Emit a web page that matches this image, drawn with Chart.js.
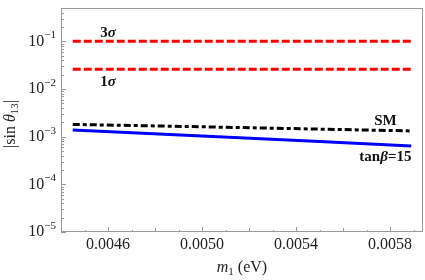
<!DOCTYPE html>
<html>
<head>
<meta charset="utf-8">
<script src="https://cdn.jsdelivr.net/npm/chart.js@4/dist/chart.umd.min.js"></script>
<style>
  html, body { margin: 0; padding: 0; background: #fff; }
  #box { width: 425px; height: 280px; }
</style>
</head>
<body>
<div id="box"><canvas id="mixChart" width="425" height="280"></canvas></div>
<script>
// m1 (eV) sample points and |sin theta13| values
var m1Values = [0.00445, 0.0050, 0.0055, 0.00589];
var smValues = [1.81e-3, 1.61e-3, 1.44e-3, 1.32e-3];
var tanBetaValues = [1.38e-3, 1.03e-3, 7.9e-4, 6.4e-4];
var boundX = [0.00445, 0.00589];
var sigma3Values = [0.1, 0.1];
var sigma1Values = [0.026, 0.026];

var xTicks = [0.0046, 0.0050, 0.0054, 0.0058];
var xTickLabels = ['0.0046', '0.0050', '0.0054', '0.0058'];
var yExponents = [-5, -4, -3, -2, -1];

var serif = '"Liberation Serif", "DejaVu Serif", serif';

function pts(xs, ys) {
    return xs.map(function(x, i) { return {x: x, y: ys[i]}; });
}

// draw a run of text pieces (different fonts / baseline shifts)
function richText(ctx, parts, x, y, align) {
    var w = 0;
    parts.forEach(function(p) { ctx.font = p.font; w += ctx.measureText(p.t).width; });
    var start = align === 'right' ? x - w : (align === 'left' ? x : x - w / 2);
    ctx.textAlign = 'left';
    ctx.textBaseline = 'middle';
    parts.forEach(function(p) {
        ctx.font = p.font;
        ctx.fillText(p.t, start, y + (p.dy || 0));
        start += ctx.measureText(p.t).width;
    });
}

var notes = [
    {parts: [{t: '3', font: 'bold 15px ' + serif}, {t: 'σ', font: 'italic bold 15px ' + serif}], x: 0.0046, y: 0.1, dy: -8},
    {parts: [{t: '1', font: 'bold 15px ' + serif}, {t: 'σ', font: 'italic bold 15px ' + serif}], x: 0.0046, y: 0.026, dy: 13},
    {parts: [{t: 'SM', font: 'bold 15px ' + serif}], x: 0.00578, y: 1.34e-3, dy: -9},
    {parts: [{t: 'tan', font: 'bold 15px ' + serif}, {t: 'β', font: 'italic bold 15px ' + serif}, {t: '=15', font: 'bold 15px ' + serif}], x: 0.00578, y: 6.7e-4, dy: 12}
];

var framePlugin = {
    id: 'framePlugin',
    beforeDatasetsDraw: function(chart) {
        var ctx = chart.ctx, a = chart.chartArea;
        var xs = chart.scales.x, ys = chart.scales.y;
        ctx.save();
        ctx.strokeStyle = '#999';
        ctx.lineWidth = 1;
        ctx.strokeRect(a.left + 0.5, a.top + 0.5, a.right - a.left - 1, a.bottom - a.top - 1);
        ctx.beginPath();
        // y ticks, inward
        yExponents.forEach(function(e) {
            for (var m = 1; m <= 9; m++) {
                var v = m * Math.pow(10, e);
                if (v > ys.max) break;
                var py = Math.round(ys.getPixelForValue(v)) + 0.5;
                var len = m === 1 ? 5 : 3;
                ctx.moveTo(a.left, py);
                ctx.lineTo(a.left + len, py);
            }
        });
        // x ticks, inward
        for (var k = 44; k <= 59; k++) {
            var v = k / 10000;
            var px = Math.round(xs.getPixelForValue(v)) + 0.5;
            var len = (k % 4 === 2) ? 5 : (k % 2 === 0 ? 4 : 2);
            ctx.moveTo(px, a.bottom);
            ctx.lineTo(px, a.bottom - len);
        }
        ctx.stroke();
        ctx.restore();
    },
    afterDatasetsDraw: function(chart) {
        var ctx = chart.ctx, a = chart.chartArea;
        var xs = chart.scales.x, ys = chart.scales.y;
        ctx.save();
        ctx.fillStyle = '#222';
        // y tick labels
        yExponents.forEach(function(e) {
            var py = ys.getPixelForValue(Math.pow(10, e));
            richText(ctx, [
                {t: '10', font: '16px ' + serif},
                {t: '−' + (-e), font: '11px ' + serif, dy: -6}
            ], a.left - 5, py, 'right');
        });
        // x tick labels
        xTicks.forEach(function(v, i) {
            richText(ctx, [{t: xTickLabels[i], font: '16px ' + serif}], xs.getPixelForValue(v), a.bottom + 13, 'center');
        });
        // axis titles
        richText(ctx, [
            {t: 'm', font: 'italic 16px ' + serif},
            {t: '1', font: '11px ' + serif, dy: 4},
            {t: ' (eV)', font: '16px ' + serif}
        ], (a.left + a.right) / 2, a.bottom + 36, 'center');
        ctx.save();
        ctx.translate(11, (a.top + a.bottom) / 2 + 4);
        ctx.rotate(-Math.PI / 2);
        richText(ctx, [
            {t: '|sin ', font: '16px ' + serif},
            {t: 'θ', font: 'italic 16px ' + serif},
            {t: '13', font: '11px ' + serif, dy: 4},
            {t: '|', font: '16px ' + serif}
        ], 0, 0, 'center');
        ctx.restore();
        // curve labels
        ctx.fillStyle = '#111';
        notes.forEach(function(n) {
            richText(ctx, n.parts, xs.getPixelForValue(n.x), ys.getPixelForValue(n.y) + n.dy, 'center');
        });
        ctx.restore();
    }
};

var config = {
    type: 'scatter',
    data: {
        datasets: [
            {label: '3σ', data: pts(boundX, sigma3Values), borderColor: '#ff0000', borderWidth: 3, borderDash: [8, 3]},
            {label: '1σ', data: pts(boundX, sigma1Values), borderColor: '#ff0000', borderWidth: 3, borderDash: [8, 3]},
            {label: 'SM', data: pts(m1Values, smValues), borderColor: '#000000', borderWidth: 3, borderDash: [7, 3, 4, 3]},
            {label: 'tanβ=15', data: pts(m1Values, tanBetaValues), borderColor: '#0000ff', borderWidth: 3}
        ]
    },
    options: {
        responsive: false,
        animation: false,
        showLine: true,
        elements: {
            point: {radius: 0, hoverRadius: 0},
            line: {tension: 0, fill: false}
        },
        layout: {
            padding: {left: 61, right: 2, top: 8, bottom: 48}
        },
        plugins: {
            legend: {display: false},
            tooltip: {enabled: false}
        },
        scales: {
            x: {type: 'linear', min: 0.0044, max: 0.00594, display: false},
            y: {type: 'logarithmic', min: 1e-5, max: 0.5, display: false}
        }
    },
    plugins: [framePlugin]
};

var ctx = document.getElementById('mixChart').getContext('2d');
var mixChart = new Chart(ctx, config);
</script>
</body>
</html>
